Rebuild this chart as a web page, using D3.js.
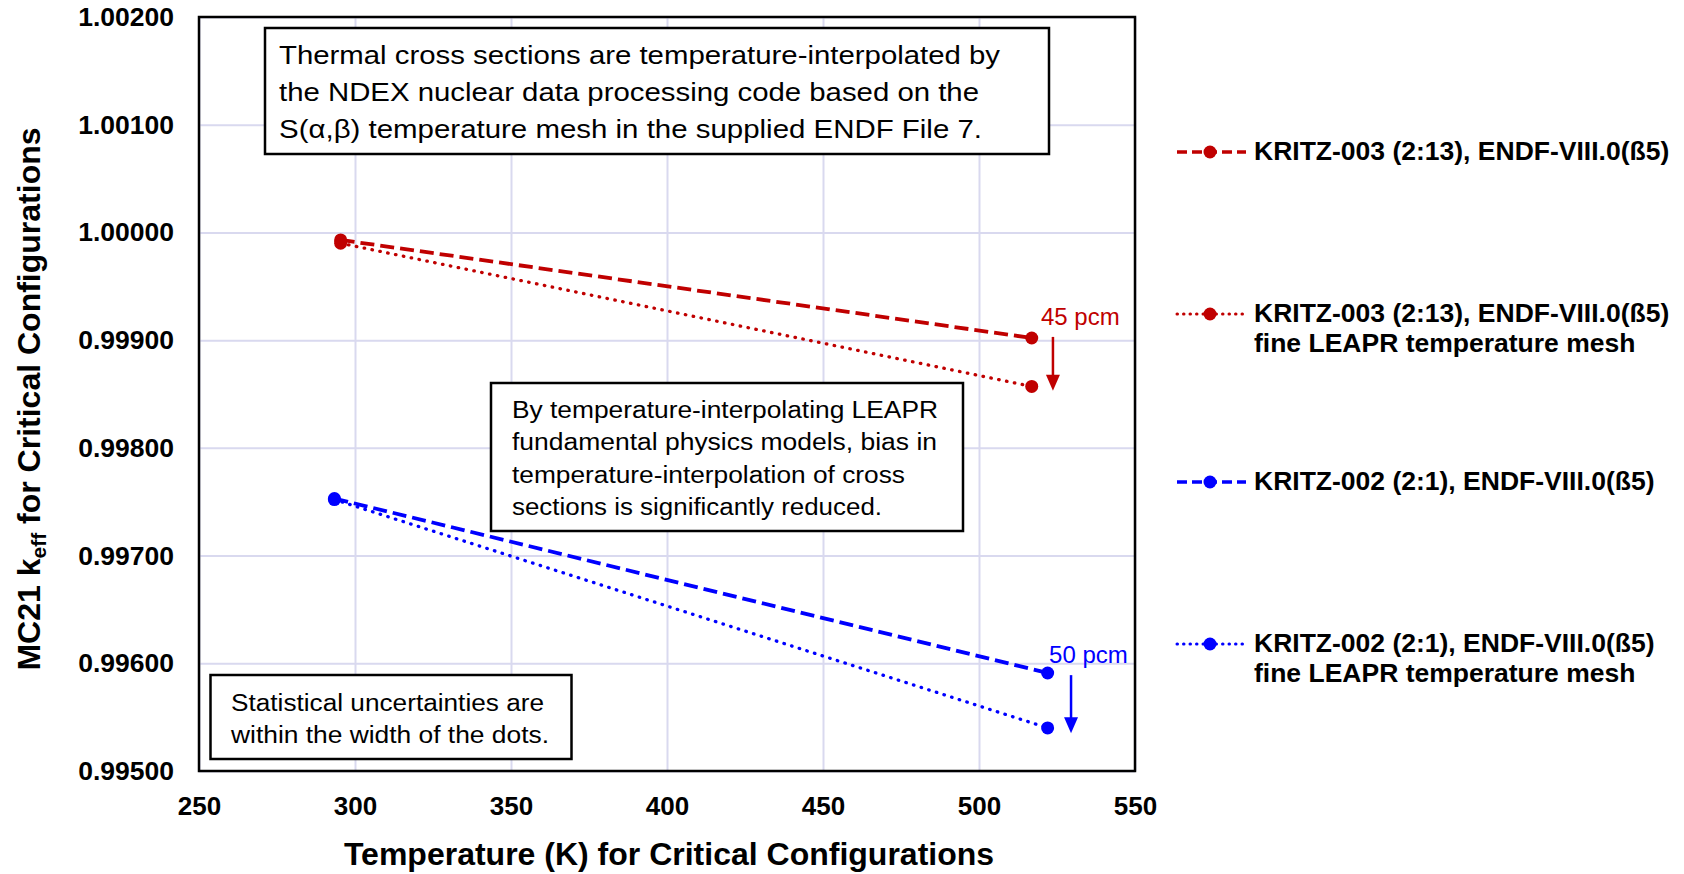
<!DOCTYPE html>
<html>
<head>
<meta charset="utf-8">
<script src="https://cdn.jsdelivr.net/npm/d3@7"></script>
<style>
  body { margin: 0; background: #fff; }
  svg text { font-family: "Liberation Sans", Arial, sans-serif; }
</style>
</head>
<body>
<div id="chart"></div>
<script>
// KRITZ-003 (red) and KRITZ-002 (blue) keff vs temperature
var temps003 = [295.4, 516.9];
var keff003 = [0.99993, 0.99902];
var keff003Fine = [0.99990, 0.99857];

var temps002 = [293.4, 522.0];
var keff002 = [0.99753, 0.99591];
var keff002Fine = [0.99752, 0.99540];

var xTicks = [250, 300, 350, 400, 450, 500, 550];
var yTicks = [0.995, 0.996, 0.997, 0.998, 0.999, 1.000, 1.001, 1.002];

var legendLabels = [
    ["KRITZ-003 (2:13), ENDF-VIII.0(ß5)"],
    ["KRITZ-003 (2:13), ENDF-VIII.0(ß5)", "fine LEAPR temperature mesh"],
    ["KRITZ-002 (2:1), ENDF-VIII.0(ß5)"],
    ["KRITZ-002 (2:1), ENDF-VIII.0(ß5)", "fine LEAPR temperature mesh"]
];

// pcm difference arrows
var pcmText = ["45 pcm", "50 pcm"];
var pcmX = [523.7, 529.5];
var pcmFrom = [0.99903, 0.99589];
var pcmTo = [0.99853, 0.99535];

function init(){
    var W = 1684, H = 874;
    var left = 199, top = 17;
    var w = 936, h = 754;
    var red = "#C00000", blue = "#0000FF";

    var svg = d3.select("#chart")
                .append("svg")
                .attr("width", W)
                .attr("height", H);

    var xScale = d3.scaleLinear().domain([250, 550]).range([0, w]);
    var yScale = d3.scaleLinear().domain([0.995, 1.002]).range([h, 0]);

    var g = svg.append("g").attr("transform", "translate(" + left + "," + top + ")");

    // grid
    g.append("g")
        .attr("transform", "translate(0," + h + ")")
        .call(d3.axisBottom(xScale).tickValues(xTicks).tickSize(-h).tickFormat(""))
        .call(function(a){ a.select(".domain").remove(); })
        .selectAll("line").attr("stroke", "#D9D9EF").attr("stroke-width", 2);
    g.append("g")
        .call(d3.axisLeft(yScale).tickValues(yTicks).tickSize(-w).tickFormat(""))
        .call(function(a){ a.select(".domain").remove(); })
        .selectAll("line").attr("stroke", "#D9D9EF").attr("stroke-width", 2);

    // tick labels
    var xAxis = g.append("g")
        .attr("transform", "translate(0," + h + ")")
        .call(d3.axisBottom(xScale).tickValues(xTicks).tickSize(0).tickPadding(26).tickFormat(d3.format("d")));
    xAxis.select(".domain").remove();
    xAxis.selectAll("text")
        .attr("font-size", "26px").attr("font-weight", "bold").attr("fill", "#000")
        .attr("font-family", "'Liberation Sans', Arial, sans-serif");

    var yAxis = g.append("g")
        .call(d3.axisLeft(yScale).tickValues(yTicks).tickSize(0).tickPadding(25).tickFormat(d3.format(".5f")));
    yAxis.select(".domain").remove();
    yAxis.selectAll("text")
        .attr("font-size", "26.5px").attr("font-weight", "bold").attr("fill", "#000")
        .attr("font-family", "'Liberation Sans', Arial, sans-serif");

    // plot border
    g.append("rect")
        .attr("x", 0).attr("y", 0).attr("width", w).attr("height", h)
        .attr("fill", "none").attr("stroke", "#000").attr("stroke-width", 2.5);

    // text boxes
    function box(x, y, bw, bh, lines, x0, y0, lh, fs, lens){
        g.append("rect")
            .attr("x", x - left).attr("y", y - top).attr("width", bw).attr("height", bh)
            .attr("fill", "#fff").attr("stroke", "#000").attr("stroke-width", 2.5);
        lines.forEach(function(t, i){
            g.append("text")
                .attr("x", x0 - left).attr("y", y0 + i * lh - top)
                .attr("font-size", fs + "px")
                .attr("textLength", lens[i])
                .attr("lengthAdjust", "spacingAndGlyphs")
                .attr("fill", "#000")
                .text(t);
        });
    }
    box(265, 28, 784, 126,
        ["Thermal cross sections are temperature-interpolated by",
         "the NDEX nuclear data processing code based on the",
         "S(\u03b1,\u03b2) temperature mesh in the supplied ENDF File 7."],
        279, 63.5, 37.3, 26, [721, 700, 703]);
    box(491, 383, 472, 148,
        ["By temperature-interpolating  LEAPR",
         "fundamental  physics models, bias in",
         "temperature-interpolation  of cross",
         "sections is significantly reduced."],
        512, 418, 32.3, 23, [426, 425, 393, 370]);
    box(210.5, 675, 361, 84,
        ["Statistical uncertainties are",
         "within the width of the dots."],
        231, 711, 31.7, 23, [313, 318]);

    // series
    var series = [
        {t: temps003, k: keff003, c: red, dash: "14,6", sw: 3.8, cap: "butt"},
        {t: temps003, k: keff003Fine, c: red, dash: "0.5,7.5", sw: 3.3, cap: "round"},
        {t: temps002, k: keff002, c: blue, dash: "14,6", sw: 3.8, cap: "butt"},
        {t: temps002, k: keff002Fine, c: blue, dash: "0.5,7.5", sw: 3.3, cap: "round"}
    ];
    var line = d3.line()
        .x(function(d){ return xScale(d[0]); })
        .y(function(d){ return yScale(d[1]); });

    series.forEach(function(s){
        var pts = s.t.map(function(t, i){ return [t, s.k[i]]; });
        g.append("path")
            .attr("d", line(pts))
            .attr("fill", "none")
            .attr("stroke", s.c)
            .attr("stroke-width", s.sw)
            .attr("stroke-linecap", s.cap)
            .attr("stroke-dasharray", s.dash);
        g.selectAll(null)
            .data(pts)
            .enter()
            .append("circle")
            .attr("cx", function(d){ return xScale(d[0]); })
            .attr("cy", function(d){ return yScale(d[1]); })
            .attr("r", 6.5)
            .attr("fill", s.c);
    });

    // pcm arrows
    var pcmColor = [red, blue];
    var pcmDx = [-12, -22];
    pcmText.forEach(function(t, i){
        var x = xScale(pcmX[i]);
        var y0 = yScale(pcmFrom[i]);
        var y1 = yScale(pcmTo[i]);
        g.append("line")
            .attr("x1", x).attr("x2", x)
            .attr("y1", y0).attr("y2", y1 - 14)
            .attr("stroke", pcmColor[i]).attr("stroke-width", 2.5);
        g.append("path")
            .attr("d", "M" + (x - 7) + "," + (y1 - 16) + "L" + (x + 7) + "," + (y1 - 16) + "L" + x + "," + y1 + "Z")
            .attr("fill", pcmColor[i]);
        g.append("text")
            .attr("x", x + pcmDx[i]).attr("y", y0 - 12)
            .attr("font-size", "24px")
            .attr("fill", pcmColor[i])
            .text(t);
    });

    // axis titles
    svg.append("text")
        .attr("x", left + w / 2 + 2).attr("y", 865)
        .attr("text-anchor", "middle")
        .attr("font-size", "32px").attr("font-weight", "bold")
        .text("Temperature (K) for Critical Configurations");

    var yt = svg.append("text")
        .attr("transform", "translate(40," + (top + h / 2 + 5) + ") rotate(-90)")
        .attr("text-anchor", "middle")
        .attr("font-size", "32px").attr("font-weight", "bold");
    yt.append("tspan").text("MC21 k");
    yt.append("tspan").attr("font-size", "21px").attr("dy", 6).text("eff");
    yt.append("tspan").attr("dy", -6).text(" for Critical Configurations");

    // legend
    var legY = [152, 314, 482, 644];
    var legColor = [red, red, blue, blue];
    var legDash = ["10,5", "0.5,6", "10,5", "0.5,6"];
    var legCap = ["butt", "round", "butt", "round"];
    var legW = [3.5, 3, 3.5, 3];
    legendLabels.forEach(function(lines, i){
        var y = legY[i];
        svg.append("line")
            .attr("x1", 1177).attr("x2", 1246)
            .attr("y1", y).attr("y2", y)
            .attr("stroke", legColor[i]).attr("stroke-width", legW[i])
            .attr("stroke-linecap", legCap[i])
            .attr("stroke-dasharray", legDash[i]);
        svg.append("circle")
            .attr("cx", 1210).attr("cy", y).attr("r", 6.5).attr("fill", legColor[i]);
        lines.forEach(function(t, j){
            svg.append("text")
                .attr("x", 1254).attr("y", y + 8 + j * 30)
                .attr("font-size", "26.5px").attr("font-weight", "bold")
                .text(t);
        });
    });
}
window.onload = init;
</script>
</body>
</html>
